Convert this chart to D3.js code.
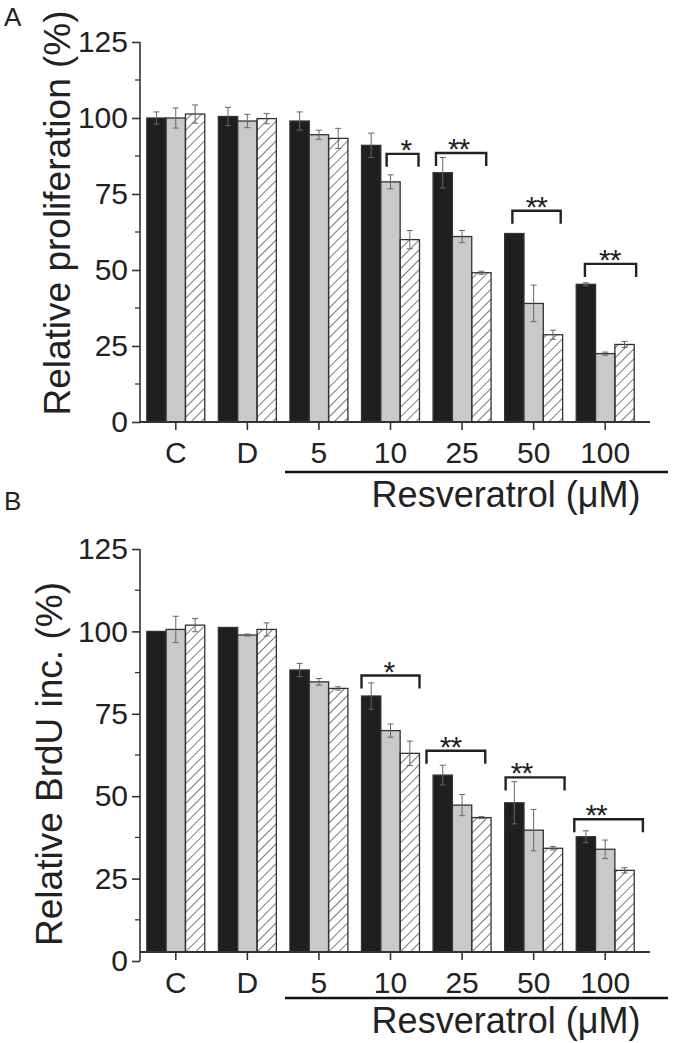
<!DOCTYPE html>
<html>
<head>
<meta charset="utf-8">
<script src="https://d3js.org/d3.v7.min.js"></script>
<style>
  body { margin: 0; padding: 0; background: #fff; }
  svg text { font-family: "Liberation Sans", Arial, sans-serif; fill: #222; }
</style>
</head>
<body>
<div id="chart"></div>
<script>
// ---- data ----
var categories = ["C", "D", "5", "10", "25", "50", "100"];
var seriesNames = ["black", "gray", "hatched"];

// panel A: relative proliferation (%)
var profBlack    = [100, 100.5, 99, 91, 82, 62, 45.3];
var profBlackErr = [2, 3, 3, 4, 5, 0, 0.5];
var profGray     = [100, 99, 94.5, 79, 61, 39, 22.5];
var profGrayErr  = [3.3, 2.2, 1.5, 2.3, 2, 6, 0.5];
var profHatch    = [101.3, 99.8, 93.3, 60, 49.1, 28.7, 25.5];
var profHatchErr = [3, 1.7, 3.3, 3, 0.5, 1.5, 1];

// panel B: relative BrdU incorporation (%)
var brduBlack    = [100, 101.2, 88.3, 80.4, 56.4, 48, 37.7];
var brduBlackErr = [0, 0, 2, 4, 3, 6.4, 1.8];
var brduGray     = [100.6, 98.9, 84.7, 69.9, 47.3, 39.7, 33.9];
var brduGrayErr  = [4, 0.3, 1, 2, 3.2, 6.3, 2.8];
var brduHatch    = [101.9, 100.6, 82.7, 63, 43.5, 34.2, 27.5];
var brduHatchErr = [2, 2, 0.5, 3.7, 0.3, 0.5, 0.8];

var yTicks = [0, 25, 50, 75, 100, 125];

// significance brackets (from/to/star in bar widths inside the group, level in %)
var sigA = {
  cat:   ["10", "25", "50", "100"],
  from:  [1.3, 0.15, 0.4, 0.45],
  to:    [2.95, 2.75, 2.9, 3.1],
  level: [88.2, 88.5, 69.5, 52],
  star:  [2.3, 1.32, 1.64, 1.73],
  label: ["*", "**", "**", "**"]
};
var sigB = {
  cat:   ["10", "25", "50", "100"],
  from:  [0, -0.34, 0.05, -0.1],
  to:    [3, 2.7, 3.1, 3.45],
  level: [86.6, 63.8, 55.7, 43],
  star:  [1.42, 0.9, 0.87, 1.03],
  label: ["*", "**", "**", "**"]
};

var width = 676, height = 1043;

var svg = d3.select("#chart").append("svg")
    .attr("width", width)
    .attr("height", height);

var defs = svg.append("defs");
defs.append("pattern")
    .attr("id", "hatch")
    .attr("patternUnits", "userSpaceOnUse")
    .attr("width", 7)
    .attr("height", 7)
    .attr("patternTransform", "rotate(45)")
  .append("line")
    .attr("x1", 0).attr("y1", 0)
    .attr("x2", 0).attr("y2", 7)
    .attr("stroke", "#333")
    .attr("stroke-width", 1.3);

var fills = { black: "#1f1f1f", gray: "#c9c9c9", hatched: "url(#hatch)" };

function rows(b, be, g, ge, h, he) {
  return categories.map(function(c, i) {
    return {
      cat: c,
      vals: [
        { s: "black", v: b[i], e: be[i] },
        { s: "gray", v: g[i], e: ge[i] },
        { s: "hatched", v: h[i], e: he[i] }
      ]
    };
  });
}

function drawPanel(opt) {
  var g = svg.append("g");

  var x = d3.scaleBand()
      .domain(categories)
      .range([140, 641])
      .paddingInner(0.19)
      .paddingOuter(0.095);

  var xs = d3.scaleBand()
      .domain(seriesNames)
      .range([0, x.bandwidth()]);

  var y = d3.scaleLinear()
      .domain([0, 125])
      .range([opt.y0, opt.y125]);

  var base = y(0) - opt.lift;

  // bars
  var grp = g.selectAll(".grp")
      .data(opt.data)
    .enter().append("g")
      .attr("transform", function(d) { return "translate(" + x(d.cat) + ",0)"; });

  grp.selectAll("rect")
      .data(function(d) { return d.vals; })
    .enter().append("rect")
      .attr("x", function(d) { return xs(d.s); })
      .attr("width", xs.bandwidth())
      .attr("y", function(d) { return y(d.v); })
      .attr("height", function(d) { return base - y(d.v); })
      .attr("fill", function(d) { return fills[d.s]; })
      .attr("stroke", "#333")
      .attr("stroke-width", 1.3);

  // error bars
  var eb = grp.selectAll(".eb")
      .data(function(d) { return d.vals.filter(function(v) { return v.e > 0; }); })
    .enter().append("g")
      .attr("stroke", "#666")
      .attr("stroke-width", 1);
  eb.append("line")
      .attr("x1", function(d) { return xs(d.s) + xs.bandwidth() / 2; })
      .attr("x2", function(d) { return xs(d.s) + xs.bandwidth() / 2; })
      .attr("y1", function(d) { return y(d.v + d.e); })
      .attr("y2", function(d) { return y(d.v - d.e); });
  [1, -1].forEach(function(sg) {
    eb.append("line")
        .attr("x1", function(d) { return xs(d.s) + xs.bandwidth() / 2 - 3; })
        .attr("x2", function(d) { return xs(d.s) + xs.bandwidth() / 2 + 3; })
        .attr("y1", function(d) { return y(d.v + sg * d.e); })
        .attr("y2", function(d) { return y(d.v + sg * d.e); });
  });

  // y axis
  var yAxis = d3.axisLeft(y)
      .tickValues(yTicks)
      .tickSize(8)
      .tickPadding(4);
  var ya = g.append("g")
      .attr("transform", "translate(140,0)")
      .call(yAxis);
  ya.select(".domain").attr("stroke", "#333").attr("stroke-width", 1.6)
      .attr("d", "M0," + y(125) + "V" + y(0));
  ya.selectAll(".tick line").attr("stroke", "#333").attr("stroke-width", 1.6);
  ya.selectAll(".tick text")
      .style("font-size", "30px")
      .attr("fill", "#222");
  // minor ticks
  ya.selectAll(".minor")
      .data(d3.range(12.5, 125, 25))
    .enter().append("line")
      .attr("x1", -5).attr("x2", 0)
      .attr("y1", function(d) { return y(d); })
      .attr("y2", function(d) { return y(d); })
      .attr("stroke", "#333")
      .attr("stroke-width", 1.3);

  // x axis
  var xa = g.append("g")
      .attr("transform", "translate(0," + base + ")")
      .call(d3.axisBottom(x).tickSize(8).tickPadding(12));
  xa.select(".domain").attr("stroke", "#333").attr("stroke-width", 1.8)
      .attr("d", "M140,0H650");
  xa.selectAll(".tick line").attr("stroke", "#333").attr("stroke-width", 1.6);
  xa.selectAll(".tick text")
      .style("font-size", "30px")
      .attr("fill", "#222");

  // resveratrol underline + label
  g.append("line")
      .attr("x1", 285).attr("x2", 668)
      .attr("y1", opt.ruleY).attr("y2", opt.ruleY)
      .attr("stroke", "#111")
      .attr("stroke-width", 2.4);
  g.append("text")
      .attr("x", 506)
      .attr("y", opt.ruleY + 35)
      .attr("text-anchor", "middle")
      .style("font-size", "36px")
      .text("Resveratrol (\u03bcM)");

  // y title
  g.append("text")
      .attr("transform", "translate(" + opt.titleX + "," + opt.titleY + ") rotate(-90)")
      .attr("text-anchor", "middle")
      .style("font-size", opt.titleSize + "px")
      .text(opt.title);

  // panel letter
  g.append("text")
      .attr("x", 4)
      .attr("y", opt.letterY)
      .style("font-size", "26px")
      .text(opt.letter);

  // significance brackets
  var bw = xs.bandwidth();
  opt.sig.cat.forEach(function(c, i) {
    var x1 = x(c) + opt.sig.from[i] * bw;
    var x2 = x(c) + opt.sig.to[i] * bw;
    var yy = y(opt.sig.level[i]);
    g.append("path")
        .attr("d", "M" + x1 + "," + (yy + 13) + "V" + yy + "H" + x2 + "V" + (yy + 13))
        .attr("fill", "none")
        .attr("stroke", "#222")
        .attr("stroke-width", 2.4);
    g.append("text")
        .attr("x", x(c) + opt.sig.star[i] * bw)
        .attr("y", yy + 6)
        .attr("text-anchor", "middle")
        .style("font-size", "30px")
        .style("letter-spacing", "-1px")
        .text(opt.sig.label[i]);
  });
}

drawPanel({
  data: rows(profBlack, profBlackErr, profGray, profGrayErr, profHatch, profHatchErr),
  y0: 422, y125: 42, lift: 0,
  ruleY: 472,
  title: "Relative proliferation (%)", titleX: 70, titleY: 213, titleSize: 37,
  letter: "A", letterY: 26,
  sig: sigA
});

drawPanel({
  data: rows(brduBlack, brduBlackErr, brduGray, brduGrayErr, brduHatch, brduHatchErr),
  y0: 961, y125: 549, lift: 9,
  ruleY: 998,
  title: "Relative BrdU inc. (%)", titleX: 62, titleY: 764, titleSize: 37,
  letter: "B", letterY: 510,
  sig: sigB
});
</script>
</body>
</html>
